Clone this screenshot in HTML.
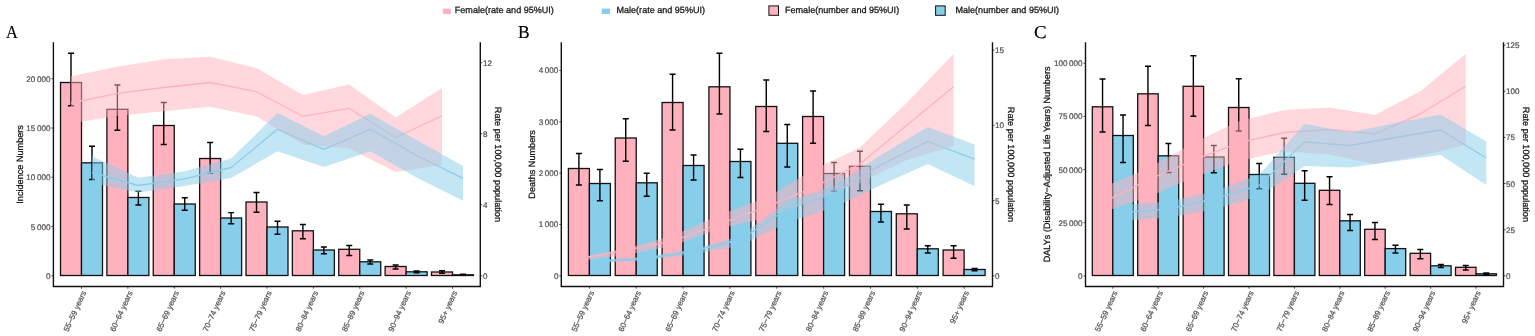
<!DOCTYPE html>
<html lang="en">
<head>
<meta charset="utf-8">
<title>Incidence, deaths and DALYs by age group and sex</title>
<style>
html,body{margin:0;padding:0;background:#fff;}
body{width:1535px;height:336px;overflow:hidden;font-family:"Liberation Sans",sans-serif;}
svg{display:block;}
</style>
</head>
<body>
<svg width="1535" height="336" viewBox="0 0 1535 336" font-family="'Liberation Sans', sans-serif" text-rendering="geometricPrecision">
<rect width="1535" height="336" fill="#fff"/>
<g font-size="9.05" fill="#111" stroke="#111" stroke-width="0.25">
<rect x="442.8" y="8.6" width="8" height="5.4" fill="#FFB1BE" stroke="none"/>
<text x="454.8" y="13.2">Female(rate and 95%UI)</text>
<rect x="601.8" y="8.6" width="8.2" height="5.4" fill="#87CEEB" stroke="none"/>
<text x="616.5" y="13.2">Male(rate and 95%UI)</text>
<rect x="768.9" y="5.9" width="9.6" height="9.4" fill="#FFB1BE" stroke="#111" stroke-width="1"/>
<text x="785" y="13.0">Female(number and 95%UI)</text>
<rect x="935.6" y="5.9" width="9.6" height="9.4" fill="#87CEEB" stroke="#111" stroke-width="1"/>
<text x="955.5" y="13.0">Male(number and 95%UI)</text>
</g>
<g>
<text transform="translate(6.1 38.3) scale(0.9 1)" font-family="'Liberation Serif', serif" font-size="18.2" fill="#000" stroke="#000" stroke-width="0.15">A</text>
<rect x="60.5" y="82.5" width="21" height="193" fill="#FFB1BE" stroke="#111" stroke-width="1.3"/>
<rect x="81.5" y="162.8" width="21" height="112.7" fill="#87CEEB" stroke="#111" stroke-width="1.3"/>
<rect x="106.88" y="109.3" width="21" height="166.2" fill="#FFB1BE" stroke="#111" stroke-width="1.3"/>
<rect x="127.88" y="197.5" width="21" height="78" fill="#87CEEB" stroke="#111" stroke-width="1.3"/>
<rect x="153.25" y="125.5" width="21" height="150" fill="#FFB1BE" stroke="#111" stroke-width="1.3"/>
<rect x="174.25" y="204" width="21" height="71.5" fill="#87CEEB" stroke="#111" stroke-width="1.3"/>
<rect x="199.62" y="158.5" width="21" height="117" fill="#FFB1BE" stroke="#111" stroke-width="1.3"/>
<rect x="220.62" y="218" width="21" height="57.5" fill="#87CEEB" stroke="#111" stroke-width="1.3"/>
<rect x="246" y="202" width="21" height="73.5" fill="#FFB1BE" stroke="#111" stroke-width="1.3"/>
<rect x="267" y="227" width="21" height="48.5" fill="#87CEEB" stroke="#111" stroke-width="1.3"/>
<rect x="292.38" y="230.8" width="21" height="44.7" fill="#FFB1BE" stroke="#111" stroke-width="1.3"/>
<rect x="313.38" y="250" width="21" height="25.5" fill="#87CEEB" stroke="#111" stroke-width="1.3"/>
<rect x="338.75" y="249.3" width="21" height="26.2" fill="#FFB1BE" stroke="#111" stroke-width="1.3"/>
<rect x="359.75" y="261.8" width="21" height="13.7" fill="#87CEEB" stroke="#111" stroke-width="1.3"/>
<rect x="385.12" y="266.5" width="21" height="9" fill="#FFB1BE" stroke="#111" stroke-width="1.3"/>
<rect x="406.12" y="271.8" width="21" height="3.7" fill="#87CEEB" stroke="#111" stroke-width="1.3"/>
<rect x="431.5" y="272" width="21" height="3.5" fill="#FFB1BE" stroke="#111" stroke-width="1.3"/>
<rect x="452.5" y="274.8" width="21" height="0.7" fill="#87CEEB" stroke="#111" stroke-width="1.3"/>
<path d="M68 53.3H74M68 105.8H74M71 53.3V105.8M89 146.3H95M89 179.5H95M92 146.3V179.5M114.38 85H120.38M114.38 130.3H120.38M117.38 85V130.3M135.38 191.3H141.38M135.38 205H141.38M138.38 191.3V205M160.75 102.5H166.75M160.75 144.5H166.75M163.75 102.5V144.5M181.75 197.8H187.75M181.75 210.3H187.75M184.75 197.8V210.3M207.12 142.5H213.12M207.12 173H213.12M210.12 142.5V173M228.12 212.6H234.12M228.12 223.8H234.12M231.12 212.6V223.8M253.5 192.5H259.5M253.5 212.3H259.5M256.5 192.5V212.3M274.5 221.3H280.5M274.5 234.3H280.5M277.5 221.3V234.3M299.88 224.5H305.88M299.88 238.8H305.88M302.88 224.5V238.8M320.88 247H326.88M320.88 253.8H326.88M323.88 247V253.8M346.25 245.5H352.25M346.25 255.5H352.25M349.25 245.5V255.5M367.25 260H373.25M367.25 264H373.25M370.25 260V264M392.62 265H398.62M392.62 269H398.62M395.62 265V269M413.62 271H419.62M413.62 272.8H419.62M416.62 271V272.8M439 270.8H445M439 273.3H445M442 270.8V273.3M460 274.3H466M460 275.2H466M463 274.3V275.2" fill="none" stroke="#000" stroke-width="1.4"/>
<polyline points="71,103 117.38,93.3 163.75,87.5 210.12,82.5 256.5,91.8 302.88,116.3 349.25,108.3 395.62,137.5 442,115.8" fill="none" stroke="#FFB1BE" stroke-width="1.3" stroke-linejoin="round"/>
<polyline points="92,172.5 138.38,185.5 184.75,178.8 231.12,167.5 277.5,129.3 323.88,149.3 370.25,129.3 416.62,155.5 463,178.3" fill="none" stroke="#87CEEB" stroke-width="1.3" stroke-linejoin="round"/>
<polygon points="71,76.3 117.38,66.8 163.75,59.3 210.12,56.8 256.5,68 302.88,95 349.25,84.5 395.62,117.5 442,88 442,165 395.62,172 349.25,148.5 302.88,144.4 256.5,116.3 210.12,106.8 163.75,111.3 117.38,115.8 71,123.5" fill="#FFB1BE" fill-opacity="0.5"/>
<polygon points="92,156.3 138.38,177.8 184.75,171.3 231.12,158.6 277.5,113 323.88,136.3 370.25,113.8 416.62,140 463,166 463,200.8 416.62,177.5 370.25,151.3 323.88,167 277.5,151.3 231.12,178 184.75,186 138.38,192.5 92,183" fill="#87CEEB" fill-opacity="0.5"/>
<path d="M53.4 42.3V286.5H480.3V42.3" fill="none" stroke="#111" stroke-width="1.4"/>
<path d="M51.4 275.8H53.4M51.4 226.55H53.4M51.4 177.29H53.4M51.4 128.04H53.4M51.4 78.79H53.4M480.3 275.8H482.3M480.3 204.78H482.3M480.3 133.76H482.3M480.3 62.74H482.3M81.5 286.5V288.7M127.88 286.5V288.7M174.25 286.5V288.7M220.62 286.5V288.7M267 286.5V288.7M313.38 286.5V288.7M359.75 286.5V288.7M406.12 286.5V288.7M452.5 286.5V288.7" fill="none" stroke="#222" stroke-width="0.8"/>
<g font-size="8.1" fill="#4D4D4D" stroke="#4D4D4D" stroke-width="0.2">
<text x="50.5" y="278.8" text-anchor="end">0</text>
<text x="50.5" y="229.55" text-anchor="end">5 000</text>
<text x="50.5" y="180.29" text-anchor="end">10 000</text>
<text x="50.5" y="131.04" text-anchor="end">15 000</text>
<text x="50.5" y="81.79" text-anchor="end">20 000</text>
<text x="482.9" y="278.8">0</text>
<text x="482.9" y="207.78">4</text>
<text x="482.9" y="136.76">8</text>
<text x="482.9" y="65.74">12</text>
<text transform="translate(86.4 292.4) rotate(-65.5)" text-anchor="end" font-size="7.9">55−59 years</text>
<text transform="translate(132.78 292.4) rotate(-65.5)" text-anchor="end" font-size="7.9">60−64 years</text>
<text transform="translate(179.15 292.4) rotate(-65.5)" text-anchor="end" font-size="7.9">65−69 years</text>
<text transform="translate(225.53 292.4) rotate(-65.5)" text-anchor="end" font-size="7.9">70−74 years</text>
<text transform="translate(271.9 292.4) rotate(-65.5)" text-anchor="end" font-size="7.9">75−79 years</text>
<text transform="translate(318.27 292.4) rotate(-65.5)" text-anchor="end" font-size="7.9">80−84 years</text>
<text transform="translate(364.65 292.4) rotate(-65.5)" text-anchor="end" font-size="7.9">85−89 years</text>
<text transform="translate(411.02 292.4) rotate(-65.5)" text-anchor="end" font-size="7.9">90−94 years</text>
<text transform="translate(457.4 292.4) rotate(-65.5)" text-anchor="end" font-size="7.9">95+ years</text>
</g>
<text transform="translate(22.5 164.4) rotate(-90)" text-anchor="middle" font-size="9.15" fill="#111" stroke="#111" stroke-width="0.25">Incidence Numbers</text>
<text transform="translate(495.2 164.4) rotate(90)" text-anchor="middle" font-size="9.15" fill="#111" stroke="#111" stroke-width="0.25">Rate per 100,000 population</text>
</g>
<g>
<text transform="translate(518.0 38.3) scale(0.96 1)" font-family="'Liberation Serif', serif" font-size="18.2" fill="#000" stroke="#000" stroke-width="0.15">B</text>
<rect x="568.4" y="168.5" width="21" height="107" fill="#FFB1BE" stroke="#111" stroke-width="1.3"/>
<rect x="589.4" y="183.5" width="21" height="92" fill="#87CEEB" stroke="#111" stroke-width="1.3"/>
<rect x="615.24" y="138" width="21" height="137.5" fill="#FFB1BE" stroke="#111" stroke-width="1.3"/>
<rect x="636.24" y="182.8" width="21" height="92.7" fill="#87CEEB" stroke="#111" stroke-width="1.3"/>
<rect x="662.08" y="102.5" width="21" height="173" fill="#FFB1BE" stroke="#111" stroke-width="1.3"/>
<rect x="683.08" y="165.5" width="21" height="110" fill="#87CEEB" stroke="#111" stroke-width="1.3"/>
<rect x="708.92" y="86.8" width="21" height="188.7" fill="#FFB1BE" stroke="#111" stroke-width="1.3"/>
<rect x="729.92" y="161.5" width="21" height="114" fill="#87CEEB" stroke="#111" stroke-width="1.3"/>
<rect x="755.76" y="106.5" width="21" height="169" fill="#FFB1BE" stroke="#111" stroke-width="1.3"/>
<rect x="776.76" y="143.3" width="21" height="132.2" fill="#87CEEB" stroke="#111" stroke-width="1.3"/>
<rect x="802.6" y="116.5" width="21" height="159" fill="#FFB1BE" stroke="#111" stroke-width="1.3"/>
<rect x="823.6" y="173.5" width="21" height="102" fill="#87CEEB" stroke="#111" stroke-width="1.3"/>
<rect x="849.44" y="166.3" width="21" height="109.2" fill="#FFB1BE" stroke="#111" stroke-width="1.3"/>
<rect x="870.44" y="211.5" width="21" height="64" fill="#87CEEB" stroke="#111" stroke-width="1.3"/>
<rect x="896.28" y="213.8" width="21" height="61.7" fill="#FFB1BE" stroke="#111" stroke-width="1.3"/>
<rect x="917.28" y="248.8" width="21" height="26.7" fill="#87CEEB" stroke="#111" stroke-width="1.3"/>
<rect x="943.12" y="250" width="21" height="25.5" fill="#FFB1BE" stroke="#111" stroke-width="1.3"/>
<rect x="964.12" y="269.5" width="21" height="6" fill="#87CEEB" stroke="#111" stroke-width="1.3"/>
<path d="M575.9 153.5H581.9M575.9 185H581.9M578.9 153.5V185M596.9 169.5H602.9M596.9 200.8H602.9M599.9 169.5V200.8M622.74 118.8H628.74M622.74 161.3H628.74M625.74 118.8V161.3M643.74 173.3H649.74M643.74 196.3H649.74M646.74 173.3V196.3M669.58 74.3H675.58M669.58 130H675.58M672.58 74.3V130M690.58 155H696.58M690.58 180H696.58M693.58 155V180M716.42 53.3H722.42M716.42 114H722.42M719.42 53.3V114M737.42 149.3H743.42M737.42 177.5H743.42M740.42 149.3V177.5M763.26 80H769.26M763.26 131.5H769.26M766.26 80V131.5M784.26 124.5H790.26M784.26 167H790.26M787.26 124.5V167M810.1 91H816.1M810.1 143.3H816.1M813.1 91V143.3M831.1 162.5H837.1M831.1 191.3H837.1M834.1 162.5V191.3M856.94 151.3H862.94M856.94 190.8H862.94M859.94 151.3V190.8M877.94 204.3H883.94M877.94 222H883.94M880.94 204.3V222M903.78 205H909.78M903.78 229H909.78M906.78 205V229M924.78 245.8H930.78M924.78 253H930.78M927.78 245.8V253M950.62 245.8H956.62M950.62 258.3H956.62M953.62 245.8V258.3M971.62 268.5H977.62M971.62 270.8H977.62M974.62 268.5V270.8" fill="none" stroke="#000" stroke-width="1.4"/>
<polyline points="578.9,258.7 625.74,250.2 672.58,241.1 719.42,224 766.26,206.8 813.1,187.7 859.94,164 906.78,125.2 953.62,86.8" fill="none" stroke="#FFB1BE" stroke-width="1.3" stroke-linejoin="round"/>
<polyline points="599.9,261.2 646.74,258.5 693.58,250.9 740.42,239.5 787.26,209 834.1,193.5 880.94,165 927.78,141.5 974.62,159.2" fill="none" stroke="#87CEEB" stroke-width="1.3" stroke-linejoin="round"/>
<polygon points="578.9,257.7 625.74,248.5 672.58,235.8 719.42,215 766.26,197.7 813.1,170 859.94,147.5 906.78,102.8 953.62,53.8 953.62,146.3 906.78,160 859.94,183 813.1,200 766.26,218 719.42,228.5 672.58,246 625.74,255 578.9,261.2" fill="#FFB1BE" fill-opacity="0.5"/>
<polygon points="599.9,259.8 646.74,256.4 693.58,249.3 740.42,236 787.26,201 834.1,186 880.94,155 927.78,127 974.62,144.5 974.62,186.2 927.78,164 880.94,185 834.1,207.5 787.26,222.5 740.42,246 693.58,254 646.74,260.5 599.9,263" fill="#87CEEB" fill-opacity="0.5"/>
<path d="M561.3 42.3V286.5H992.5V42.3" fill="none" stroke="#111" stroke-width="1.4"/>
<path d="M559.3 275.8H561.3M559.3 224.44H561.3M559.3 173.08H561.3M559.3 121.72H561.3M559.3 70.46H561.3M992.5 275.8H994.5M992.5 200.57H994.5M992.5 125.33H994.5M992.5 50.1H994.5M589.4 286.5V288.7M636.24 286.5V288.7M683.08 286.5V288.7M729.92 286.5V288.7M776.76 286.5V288.7M823.6 286.5V288.7M870.44 286.5V288.7M917.28 286.5V288.7M964.12 286.5V288.7" fill="none" stroke="#222" stroke-width="0.8"/>
<g font-size="8.1" fill="#4D4D4D" stroke="#4D4D4D" stroke-width="0.2">
<text x="558.4" y="278.8" text-anchor="end">0</text>
<text x="558.4" y="227.44" text-anchor="end">1 000</text>
<text x="558.4" y="176.08" text-anchor="end">2 000</text>
<text x="558.4" y="124.72" text-anchor="end">3 000</text>
<text x="558.4" y="73.46" text-anchor="end">4 000</text>
<text x="995.1" y="278.8">0</text>
<text x="995.1" y="203.57">5</text>
<text x="995.1" y="128.33">10</text>
<text x="995.1" y="53.1">15</text>
<text transform="translate(594.3 292.4) rotate(-65.5)" text-anchor="end" font-size="7.9">55−59 years</text>
<text transform="translate(641.14 292.4) rotate(-65.5)" text-anchor="end" font-size="7.9">60−64 years</text>
<text transform="translate(687.98 292.4) rotate(-65.5)" text-anchor="end" font-size="7.9">65−69 years</text>
<text transform="translate(734.82 292.4) rotate(-65.5)" text-anchor="end" font-size="7.9">70−74 years</text>
<text transform="translate(781.66 292.4) rotate(-65.5)" text-anchor="end" font-size="7.9">75−79 years</text>
<text transform="translate(828.5 292.4) rotate(-65.5)" text-anchor="end" font-size="7.9">80−84 years</text>
<text transform="translate(875.34 292.4) rotate(-65.5)" text-anchor="end" font-size="7.9">85−89 years</text>
<text transform="translate(922.18 292.4) rotate(-65.5)" text-anchor="end" font-size="7.9">90−94 years</text>
<text transform="translate(969.02 292.4) rotate(-65.5)" text-anchor="end" font-size="7.9">95+ years</text>
</g>
<text transform="translate(535 164.4) rotate(-90)" text-anchor="middle" font-size="9.15" fill="#111" stroke="#111" stroke-width="0.25">Deaths Numbers</text>
<text transform="translate(1008.3 164.4) rotate(90)" text-anchor="middle" font-size="9.15" fill="#111" stroke="#111" stroke-width="0.25">Rate per 100,000 population</text>
</g>
<g>
<text transform="translate(1034.1 38.3) scale(1.04 1)" font-family="'Liberation Serif', serif" font-size="18.2" fill="#000" stroke="#000" stroke-width="0.15">C</text>
<rect x="1092.3" y="106.8" width="20.5" height="168.7" fill="#FFB1BE" stroke="#111" stroke-width="1.3"/>
<rect x="1112.8" y="135.5" width="20.5" height="140" fill="#87CEEB" stroke="#111" stroke-width="1.3"/>
<rect x="1137.7" y="93.8" width="20.5" height="181.7" fill="#FFB1BE" stroke="#111" stroke-width="1.3"/>
<rect x="1158.2" y="155.8" width="20.5" height="119.7" fill="#87CEEB" stroke="#111" stroke-width="1.3"/>
<rect x="1183.1" y="86.3" width="20.5" height="189.2" fill="#FFB1BE" stroke="#111" stroke-width="1.3"/>
<rect x="1203.6" y="157" width="20.5" height="118.5" fill="#87CEEB" stroke="#111" stroke-width="1.3"/>
<rect x="1228.5" y="107.5" width="20.5" height="168" fill="#FFB1BE" stroke="#111" stroke-width="1.3"/>
<rect x="1249" y="174.5" width="20.5" height="101" fill="#87CEEB" stroke="#111" stroke-width="1.3"/>
<rect x="1273.9" y="157.3" width="20.5" height="118.2" fill="#FFB1BE" stroke="#111" stroke-width="1.3"/>
<rect x="1294.4" y="183.3" width="20.5" height="92.2" fill="#87CEEB" stroke="#111" stroke-width="1.3"/>
<rect x="1319.3" y="190.3" width="20.5" height="85.2" fill="#FFB1BE" stroke="#111" stroke-width="1.3"/>
<rect x="1339.8" y="220.8" width="20.5" height="54.7" fill="#87CEEB" stroke="#111" stroke-width="1.3"/>
<rect x="1364.7" y="229.3" width="20.5" height="46.2" fill="#FFB1BE" stroke="#111" stroke-width="1.3"/>
<rect x="1385.2" y="248.6" width="20.5" height="26.9" fill="#87CEEB" stroke="#111" stroke-width="1.3"/>
<rect x="1410.1" y="253.3" width="20.5" height="22.2" fill="#FFB1BE" stroke="#111" stroke-width="1.3"/>
<rect x="1430.6" y="265.8" width="20.5" height="9.7" fill="#87CEEB" stroke="#111" stroke-width="1.3"/>
<rect x="1455.5" y="267.3" width="20.5" height="8.2" fill="#FFB1BE" stroke="#111" stroke-width="1.3"/>
<rect x="1476" y="273.8" width="20.5" height="1.7" fill="#87CEEB" stroke="#111" stroke-width="1.3"/>
<path d="M1099.55 79H1105.55M1099.55 132H1105.55M1102.55 79V132M1120.05 115H1126.05M1120.05 162.5H1126.05M1123.05 115V162.5M1144.95 66.3H1150.95M1144.95 125.5H1150.95M1147.95 66.3V125.5M1165.45 143.5H1171.45M1165.45 172.5H1171.45M1168.45 143.5V172.5M1190.35 55.8H1196.35M1190.35 116.3H1196.35M1193.35 55.8V116.3M1210.85 145.5H1216.85M1210.85 172.8H1216.85M1213.85 145.5V172.8M1235.75 78.8H1241.75M1235.75 131H1241.75M1238.75 78.8V131M1256.25 163.5H1262.25M1256.25 188.8H1262.25M1259.25 163.5V188.8M1281.15 138.3H1287.15M1281.15 174.3H1287.15M1284.15 138.3V174.3M1301.65 170.8H1307.65M1301.65 200.3H1307.65M1304.65 170.8V200.3M1326.55 176.8H1332.55M1326.55 204.5H1332.55M1329.55 176.8V204.5M1347.05 214.5H1353.05M1347.05 230.5H1353.05M1350.05 214.5V230.5M1371.95 222.5H1377.95M1371.95 239.5H1377.95M1374.95 222.5V239.5M1392.45 245.3H1398.45M1392.45 253H1398.45M1395.45 245.3V253M1417.35 249.5H1423.35M1417.35 258.8H1423.35M1420.35 249.5V258.8M1437.85 264.5H1443.85M1437.85 267.5H1443.85M1440.85 264.5V267.5M1462.75 265.5H1468.75M1462.75 270H1468.75M1465.75 265.5V270M1483.25 273H1489.25M1483.25 274.6H1489.25M1486.25 273V274.6" fill="none" stroke="#000" stroke-width="1.4"/>
<polyline points="1102.55,202.6 1147.95,180 1193.35,160.4 1238.75,142.8 1284.15,132.5 1329.55,129.3 1374.95,133.8 1420.35,113.8 1465.75,86.3" fill="none" stroke="#FFB1BE" stroke-width="1.3" stroke-linejoin="round"/>
<polyline points="1123.05,212.4 1168.45,209.2 1213.85,199 1259.25,185.4 1304.65,141.8 1350.05,145.5 1395.45,137.5 1440.85,130 1486.25,158" fill="none" stroke="#87CEEB" stroke-width="1.3" stroke-linejoin="round"/>
<polygon points="1102.55,187.3 1147.95,168.5 1193.35,143 1238.75,121.3 1284.15,110 1329.55,107.5 1374.95,115 1420.35,91.3 1465.75,53.8 1465.75,145 1420.35,155.8 1374.95,164 1329.55,154.5 1284.15,151.2 1238.75,161 1193.35,177.5 1147.95,197.2 1102.55,212.2" fill="#FFB1BE" fill-opacity="0.5"/>
<polygon points="1123.05,204.4 1168.45,201.8 1213.85,191.2 1259.25,174.8 1304.65,123.8 1350.05,132.5 1395.45,123 1440.85,114.5 1486.25,141.5 1486.25,185 1440.85,155 1395.45,161.3 1350.05,167.5 1304.65,166 1259.25,196 1213.85,209.5 1168.45,217.4 1123.05,221" fill="#87CEEB" fill-opacity="0.5"/>
<path d="M1085.5 42.3V286.5H1503.5V42.3" fill="none" stroke="#111" stroke-width="1.4"/>
<path d="M1083.5 275.9H1085.5M1083.5 222.74H1085.5M1083.5 169.57H1085.5M1083.5 116.41H1085.5M1083.5 63.24H1085.5M1503.5 275.8H1505.5M1503.5 229.66H1505.5M1503.5 183.51H1505.5M1503.5 137.37H1505.5M1503.5 91.23H1505.5M1503.5 45.08H1505.5M1112.8 286.5V288.7M1158.2 286.5V288.7M1203.6 286.5V288.7M1249 286.5V288.7M1294.4 286.5V288.7M1339.8 286.5V288.7M1385.2 286.5V288.7M1430.6 286.5V288.7M1476 286.5V288.7" fill="none" stroke="#222" stroke-width="0.8"/>
<g font-size="8.1" fill="#4D4D4D" stroke="#4D4D4D" stroke-width="0.2">
<text x="1082.6" y="278.9" text-anchor="end">0</text>
<text x="1082.6" y="225.74" text-anchor="end">25 000</text>
<text x="1082.6" y="172.57" text-anchor="end">50 000</text>
<text x="1082.6" y="119.41" text-anchor="end">75 000</text>
<text x="1082.6" y="66.24" text-anchor="end">100 000</text>
<text x="1506.1" y="278.8">0</text>
<text x="1506.1" y="232.66">25</text>
<text x="1506.1" y="186.51">50</text>
<text x="1506.1" y="140.37">75</text>
<text x="1506.1" y="94.23">100</text>
<text x="1506.1" y="48.08">125</text>
<text transform="translate(1117.7 292.4) rotate(-65.5)" text-anchor="end" font-size="7.9">55−59 years</text>
<text transform="translate(1163.1 292.4) rotate(-65.5)" text-anchor="end" font-size="7.9">60−64 years</text>
<text transform="translate(1208.5 292.4) rotate(-65.5)" text-anchor="end" font-size="7.9">65−69 years</text>
<text transform="translate(1253.9 292.4) rotate(-65.5)" text-anchor="end" font-size="7.9">70−74 years</text>
<text transform="translate(1299.3 292.4) rotate(-65.5)" text-anchor="end" font-size="7.9">75−79 years</text>
<text transform="translate(1344.7 292.4) rotate(-65.5)" text-anchor="end" font-size="7.9">80−84 years</text>
<text transform="translate(1390.1 292.4) rotate(-65.5)" text-anchor="end" font-size="7.9">85−89 years</text>
<text transform="translate(1435.5 292.4) rotate(-65.5)" text-anchor="end" font-size="7.9">90−94 years</text>
<text transform="translate(1480.9 292.4) rotate(-65.5)" text-anchor="end" font-size="7.9">95+ years</text>
</g>
<text transform="translate(1049.5 164.4) rotate(-90)" text-anchor="middle" font-size="9.15" fill="#111" stroke="#111" stroke-width="0.25">DALYs (Disability−Adjusted Life Years) Numbers</text>
<text transform="translate(1522.75 164.4) rotate(90)" text-anchor="middle" font-size="9.15" fill="#111" stroke="#111" stroke-width="0.25">Rate per 100,000 population</text>
</g>
</svg>
</body>
</html>
